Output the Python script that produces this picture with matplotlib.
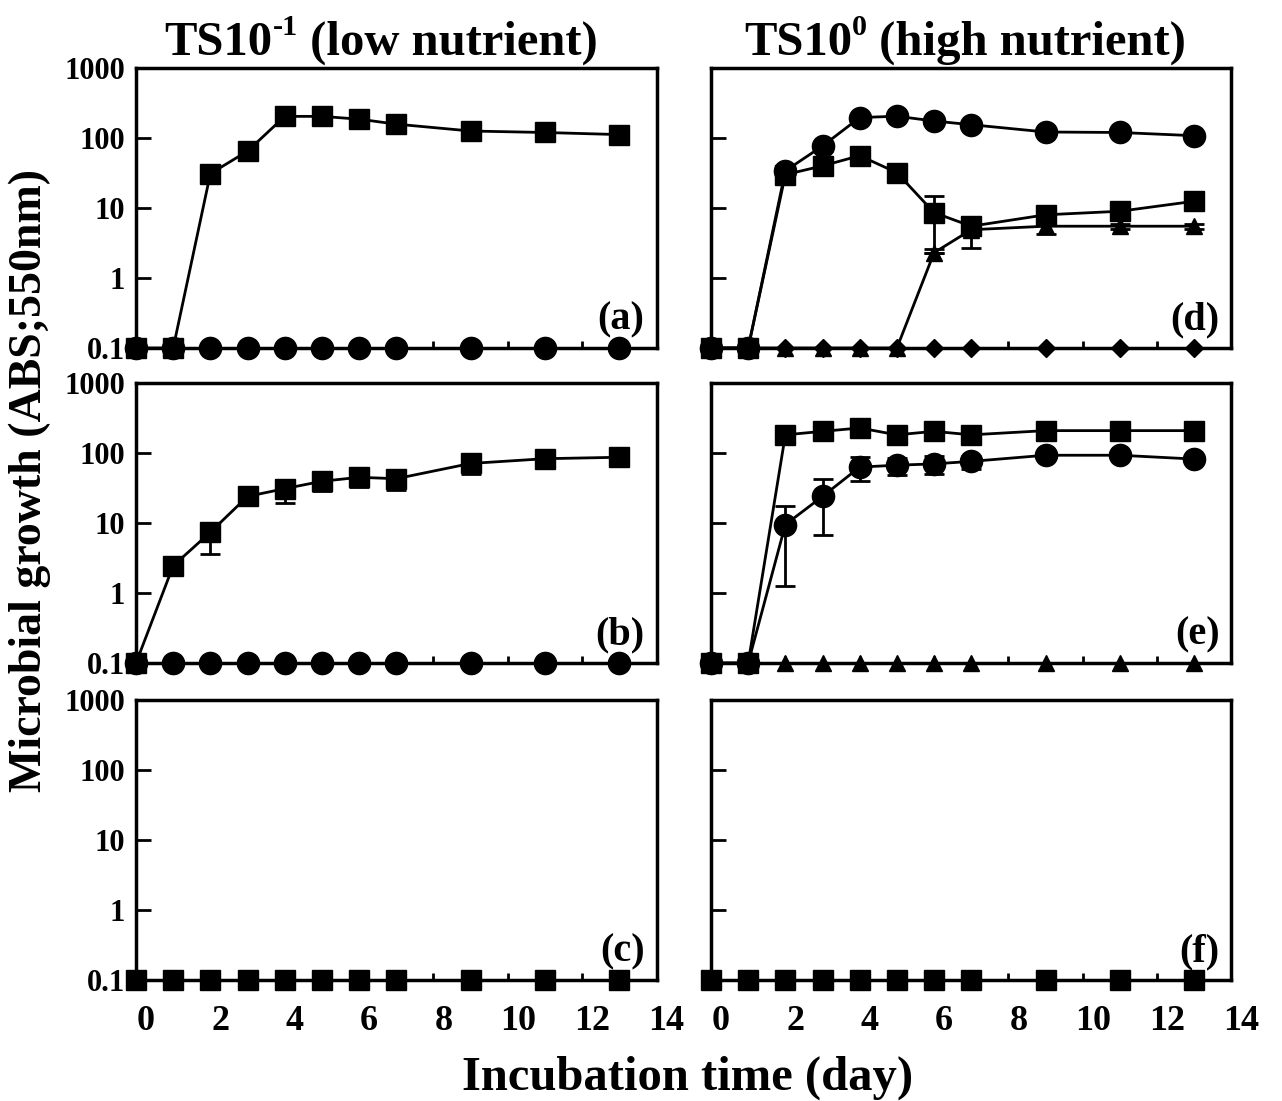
import numpy as np
import matplotlib
matplotlib.use('Agg')
import matplotlib.pyplot as plt
import matplotlib.transforms as mtransforms
from matplotlib.ticker import FixedLocator, FixedFormatter, NullLocator

plt.rcParams['font.family'] = ['Liberation Serif', 'DejaVu Serif']
plt.rcParams['font.weight'] = 'bold'
plt.rcParams['axes.linewidth'] = 2.5

# incubation days sampled
days = [0, 1, 2, 3, 4, 5, 6, 7, 9, 11, 13]
floor = [0.1] * 11

# panel (a) TS10^-1
a_square = [0.1, 0.1, 31, 65, 204, 204, 186, 158, 126, 120, 112]
a_square_err = [0, 0, 3, 8, 20, 20, 15, 10, 10, 10, 10]
a_circle = floor

# panel (b)
b_square = [0.1, 2.45, 7.4, 24, 31, 39.5, 45, 43, 71, 83, 87]
b_square_lo = [0.1, 2.3, 3.6, 20, 19.4, 29, 33, 30, 50, 78, 82]
b_square_hi = [0.1, 2.6, 10, 28, 41, 51, 58, 58, 95, 90, 92]
b_circle = floor

# panel (c)
c_square = floor

# panel (d) TS10^0
d_circle = [0.1, 0.1, 34, 77, 196, 205, 175, 155, 122, 120, 108]
d_circle_err = [0, 0, 3, 12, 10, 10, 20, 15, 5, 5, 10]
d_square = [0.1, 0.1, 30, 40, 56, 32, 8.6, 5.5, 8.0, 9.0, 12.5]
d_square_lo = [0.1, 0.1, 28, 32, 50, 29, 2.6, 2.7, 6.8, 8.0, 11.5]
d_square_hi = [0.1, 0.1, 32, 48, 62, 35, 14.8, 6.0, 9.8, 10, 13.5]
d_triangle = [0.1, 0.1, 0.1, 0.1, 0.1, 0.1, 2.3, 4.9, 5.5, 5.5, 5.5]
d_triangle_lo = [0.1, 0.1, 0.1, 0.1, 0.1, 0.1, 2.3, 4.9, 4.2, 5.0, 5.0]
d_triangle_hi = [0.1, 0.1, 0.1, 0.1, 0.1, 0.1, 2.3, 4.9, 6.5, 6.0, 6.0]
d_diamond = floor

# panel (e)
e_square = [0.1, 0.1, 182, 204, 228, 182, 204, 182, 209, 209, 209]
e_square_err = [0, 0, 15, 20, 20, 25, 25, 25, 20, 20, 20]
e_circle = [0.1, 0.1, 9.5, 24, 63, 67, 70, 76, 93, 93, 82]
e_circle_lo = [0.1, 0.1, 1.27, 6.8, 40, 48, 50, 60, 85, 85, 78]
e_circle_hi = [0.1, 0.1, 17.7, 43, 87, 86, 90, 92, 100, 100, 86]
e_triangle = floor

# panel (f)
f_square = floor

yticks = [0.1, 1, 10, 100, 1000]
ytick_labels = ['0.1', '1', '10', '100', '1000']
xticks = [0, 2, 4, 6, 8, 10, 12, 14]

MARKERS = {'s': 15, 'o': 16, '^': 11, 'D': 9}


def plot_series(ax, y, marker, lo=None, hi=None, err=None):
    y = np.array(y, dtype=float)
    yerr = None
    if err is not None:
        e = np.array(err, dtype=float)
        yerr = [np.minimum(e, y * 0.999), e]
    elif lo is not None:
        yerr = [y - np.array(lo), np.array(hi) - y]
    ax.errorbar(days, y, yerr=yerr, fmt='-', color='black', lw=2,
                marker=marker, ms=MARKERS[marker], mfc='black', mec='black',
                ecolor='black', elinewidth=2, capsize=7, capthick=2,
                clip_on=False, zorder=3)


def style_axis(ax, left_col, bottom_row, label):
    ax.set_yscale('log')
    ax.set_ylim(0.1, 1000)
    ax.set_xlim(0, 14)
    ax.yaxis.set_major_locator(FixedLocator(yticks))
    ax.yaxis.set_minor_locator(NullLocator())
    ax.xaxis.set_major_locator(FixedLocator(xticks))
    ax.xaxis.set_minor_locator(NullLocator())
    ax.tick_params(axis='y', direction='in', length=11, width=2, pad=8,
                   labelsize=22, labelleft=left_col)
    ax.tick_params(axis='x', direction='in', length=5, width=2, pad=18,
                   labelsize=26, labelbottom=bottom_row)
    if left_col:
        ax.yaxis.set_major_formatter(FixedFormatter(ytick_labels))
    ax.text(0.977, 0.065, label, transform=ax.transAxes, ha='right',
            va='baseline', fontsize=29, fontweight='bold')


def super_title(fig, xc, y, base, sup, rest, size):
    # "TS10" + raised small exponent + rest, centred on xc (pixels)
    r = fig.canvas.get_renderer()
    parts = [(base, size, 0), (sup, size * 0.62, size * 0.42), (rest, size, 0)]
    widths = []
    for s, fs, _ in parts:
        t = fig.text(0, 0, s, fontsize=fs, fontweight='bold')
        widths.append(t.get_window_extent(r).width)
        t.remove()
    x = xc - sum(widths) / 2
    for (s, fs, dy), w in zip(parts, widths):
        fig.text(x / 1282, (y + dy * 100 / 72) / 1101, s, fontsize=fs,
                 fontweight='bold', va='baseline', ha='left')
        x += w


fig = plt.figure(figsize=(12.82, 11.01), dpi=100)

lefts = [0.1061, 0.5546]
width = 0.406
bottoms = [0.6839, 0.3978, 0.1099]
height = 0.2543

axes = {}
labels = [['(a)', '(b)', '(c)'], ['(d)', '(e)', '(f)']]
for ci, x0 in enumerate(lefts):
    for ri, y0 in enumerate(bottoms):
        ax = fig.add_axes([x0, y0, width, height])
        style_axis(ax, ci == 0, ri == 2, labels[ci][ri])
        axes[labels[ci][ri]] = ax

# left column
plot_series(axes['(a)'], a_circle, 'o')
plot_series(axes['(a)'], a_square, 's', err=a_square_err)

plot_series(axes['(b)'], b_circle, 'o')
plot_series(axes['(b)'], b_square, 's', lo=b_square_lo, hi=b_square_hi)

plot_series(axes['(c)'], c_square, 's')

# right column
plot_series(axes['(d)'], d_diamond, 'D')
plot_series(axes['(d)'], d_triangle, '^', lo=d_triangle_lo, hi=d_triangle_hi)
plot_series(axes['(d)'], d_circle, 'o', err=d_circle_err)
plot_series(axes['(d)'], d_square, 's', lo=d_square_lo, hi=d_square_hi)

plot_series(axes['(e)'], e_triangle, '^')
plot_series(axes['(e)'], e_circle, 'o', lo=e_circle_lo, hi=e_circle_hi)
plot_series(axes['(e)'], e_square, 's', err=e_square_err)

plot_series(axes['(f)'], f_square, 's')

# shift the bottom tick labels a little right, like the original
offset = mtransforms.ScaledTranslation(0.1, 0, fig.dpi_scale_trans)
for key in ['(c)', '(f)']:
    for lab in axes[key].get_xticklabels():
        lab.set_transform(lab.get_transform() + offset)

super_title(fig, 381, 1101 - 55, 'TS10', '-1', ' (low nutrient)', 35)
super_title(fig, 965, 1101 - 55, 'TS10', '0', ' (high nutrient)', 35)
fig.text(688 / 1282, 1 - 1090 / 1101, 'Incubation time (day)',
         ha='center', va='baseline', fontsize=35, fontweight='bold')
fig.text(30 / 1282, 1 - 481 / 1101, 'Microbial growth (ABS;550nm)',
         ha='center', va='center', rotation=90, fontsize=33,
         fontweight='bold')

fig.savefig('out.png', dpi=100)
